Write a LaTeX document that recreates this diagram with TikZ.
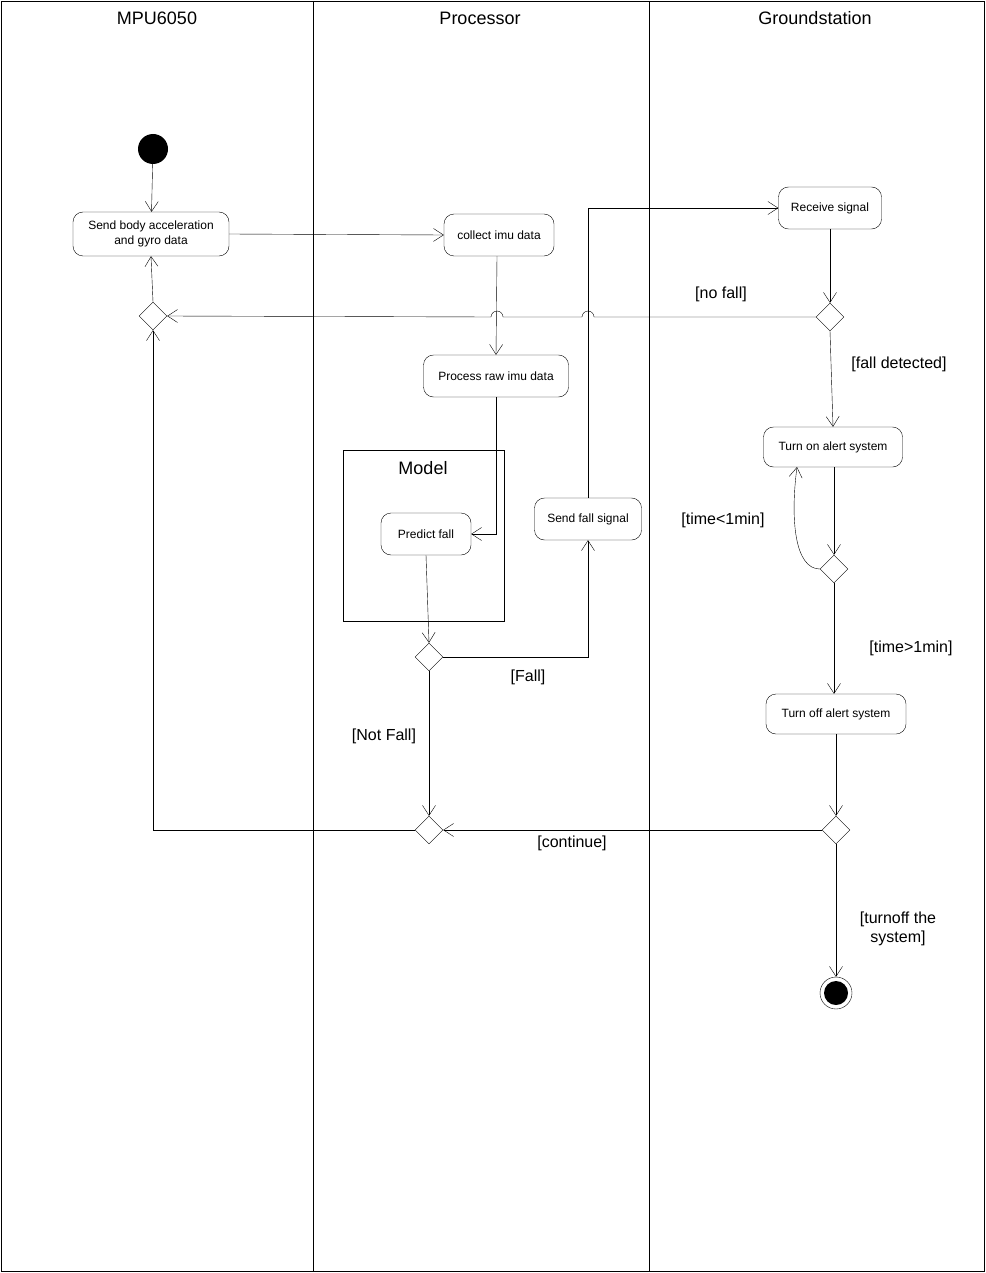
\documentclass[tikz,border=0pt]{standalone}
\usepackage{fontspec}
\setmainfont{Liberation Sans}
\usetikzlibrary{arrows.meta,shapes.geometric}

\begin{document}
\begin{tikzpicture}[
		x=1pt, y=-1pt,
		act/.style={draw=black, rounded corners=10pt, align=center, font=\fontsize{12}{15}\selectfont, inner sep=2pt},
		decide/.style={draw=black, diamond, minimum width=28pt, minimum height=28pt, inner sep=0pt},
		flow/.style={draw=black, ->, >={Straight Barb[length=10pt, width=13pt]}},
		guard/.style={font=\fontsize{16}{19}\selectfont, align=center},
		lane/.style={font=\fontsize{18}{21}\selectfont}
	]
	\useasboundingbox (0,0) rectangle (985,1273);
	% swimlanes
	\draw (1,1) rectangle (984,1271);
	\draw (313,1) -- (313,1271);
	\draw (649,1) -- (649,1271);
	\node[lane] (hmpu) at (157,18) {MPU6050};
	\node[lane] (hproc) at (480,18) {Processor};
	\node[lane] (hgs) at (815,18) {Groundstation};

	% MPU6050
	\node[fill=black, circle, minimum size=30pt, inner sep=0pt] (start) at (153,149) {};
	\node[act, minimum width=156pt, minimum height=44pt] (send) at (151,234) {Send body acceleration\\and gyro data};
	\node[decide] (dmpu) at (153,316) {};

	% Processor
	\node[act, minimum width=110pt, minimum height=42pt] (collect) at (499,235) {collect imu data};
	\node[act, minimum width=145pt, minimum height=42pt] (proc) at (496,376) {Process raw imu data};
	\draw (343,450) rectangle (504,621);
	\node[lane] (model) at (423,468) {Model};
	\node[act, minimum width=90pt, minimum height=42pt] (predict) at (426,534) {Predict fall};
	\node[act, minimum width=107pt, minimum height=42pt] (sendfall) at (588,519) {Send fall signal};
	\node[decide] (dfall) at (429,657) {};
	\node[decide] (merge) at (429,830) {};

	% Groundstation
	\node[act, minimum width=103pt, minimum height=42pt] (recv) at (830,208) {Receive signal};
	\node[decide] (dsig) at (830,317) {};
	\node[act, minimum width=139pt, minimum height=40pt] (alerton) at (833,447) {Turn on alert system};
	\node[decide] (dtime) at (834,569) {};
	\node[act, minimum width=140pt, minimum height=40pt] (alertoff) at (836,714) {Turn off alert system};
	\node[decide] (dend) at (836,830) {};
	\node[draw=black, circle, minimum size=32pt, inner sep=0pt] (stop) at (836,993) {};
	\fill (stop) circle (12pt);

	% flows
	\draw[flow] (start) -- (send);
	\draw[flow] (send.east) -- (collect.west);
	\draw[flow] (collect.south) ++(-2,0) -- (proc.north);
	\draw[flow] (proc.south) -- (proc.south |- predict.east) -- (predict.east);
	\draw[flow] (predict.south) -- (dfall.north);
	\draw[flow] (dfall.east) -| (sendfall.south);
	\draw[flow] (sendfall.north) |- (recv.west);
	\draw[flow] (recv.south) -- (dsig.north);
	\draw[flow] (dsig.west) -- (594,317) arc[start angle=0, end angle=180, radius=6pt]
		-- (503,317) arc[start angle=0, end angle=180, radius=6pt] -- (dmpu.east);
	\draw[flow] (dsig.south) -- (alerton.south |- alerton.north);
	\draw[flow] (dtime.north |- alerton.south) -- (dtime.north);
	\draw[flow] (dtime.west) .. controls (795,569) and (790,520) .. (797,467);
	\draw[flow] (dtime.south) -- (dtime.south |- alertoff.north);
	\draw[flow] (alertoff.south) -- (dend.north);
	\draw[flow] (dend.west) -- (merge.east);
	\draw[flow] (dend.south) -- (stop.north);
	\draw[flow] (dfall.south) -- (merge.north);
	\draw[flow] (merge.west) -| (dmpu.south);
	\draw[flow] (dmpu.north) -- (send.south);

	% guards
	\node[guard] (gnofall) at (721,294) {[no fall]};
	\node[guard] (gdet) at (899,364) {[fall detected]};
	\node[guard] (gless) at (723,520) {[time<1min]};
	\node[guard] (gmore) at (911,648) {[time>1min]};
	\node[guard] (gfall) at (528,677) {[Fall]};
	\node[guard] (gnot) at (384,736) {[Not Fall]};
	\node[guard] (gcont) at (572,843) {[continue]};
	\node[guard] (gturn) at (898,929) {[turnoff the\\system]};
\end{tikzpicture}
\end{document}
